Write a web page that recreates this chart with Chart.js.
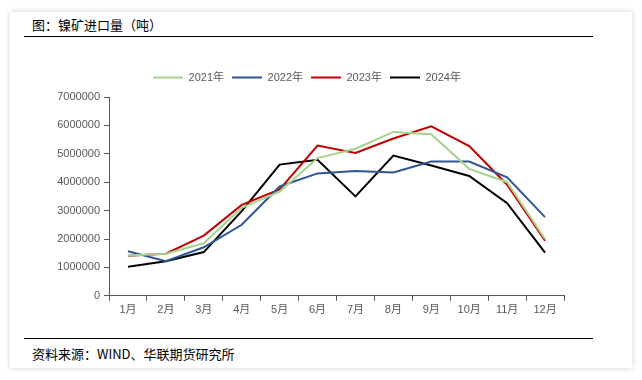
<!DOCTYPE html>
<html>
<head>
<meta charset="utf-8">
<script src="https://cdn.jsdelivr.net/npm/chart.js@4/dist/chart.umd.min.js"></script>
<style>
  body { margin: 0; background: #fff; width: 642px; height: 380px; overflow: hidden; }
  .card { position: absolute; left: 10px; top: 12px; width: 622px; height: 356px; background: #fff;
          box-shadow: 0 0 6px rgba(0,0,0,0.18); }
  .title { position: absolute; left: 32px; top: 15px; font: 13px "Noto Sans CJK SC", sans-serif; color: #000; }
  .rule { position: absolute; left: 24px; width: 569px; height: 0; border-top: 1px solid #000; }
  .src { position: absolute; left: 32px; top: 344px; font: 13px "Noto Sans CJK SC", sans-serif; color: #000; }
  #c { position: absolute; left: 0; top: 0; }
</style>
</head>
<body>
<div class="card"></div>
<div class="title">图：镍矿进口量（吨）</div>
<div class="rule" style="top:36px"></div>
<div class="rule" style="top:338px"></div>
<div class="src">资料来源：WIND、华联期货研究所</div>
<canvas id="c" width="642" height="380"></canvas>
<script>
const months = ['1月', '2月', '3月', '4月', '5月', '6月', '7月', '8月', '9月', '10月', '11月', '12月'];
const y2021 = [1420000, 1480000, 1850000, 3100000, 3670000, 4850000, 5180000, 5770000, 5690000, 4470000, 4000000, 2000000];
const y2022 = [1570000, 1220000, 1710000, 2500000, 3850000, 4310000, 4390000, 4340000, 4730000, 4730000, 4170000, 2770000];
const y2023 = [1410000, 1480000, 2120000, 3200000, 3750000, 5290000, 5030000, 5540000, 5970000, 5270000, 3910000, 1940000];
const y2024 = [1020000, 1220000, 1540000, 2980000, 4620000, 4790000, 3500000, 4940000, 4590000, 4220000, 3260000, 1520000];

const font = { family: '"Liberation Sans", Arial, "Noto Sans CJK SC", sans-serif', size: 11 };

function series(label, data, color) {
    return { label: label, data: data, borderColor: color, backgroundColor: color,
             borderWidth: 2, pointRadius: 0, tension: 0 };
}

// a little extra space under the legend
const legendGap = {
    id: 'legendGap',
    beforeInit(chart) {
        const fit = chart.legend.fit;
        chart.legend.fit = function () {
            fit.bind(chart.legend)();
            this.height += 4;
        };
    }
};

new Chart(document.getElementById('c'), {
    type: 'line',
    data: {
        labels: months,
        datasets: [
            series('2021年', y2021, '#a9d18e'),
            series('2022年', y2022, '#2f5597'),
            series('2023年', y2023, '#c00000'),
            series('2024年', y2024, '#000000')
        ]
    },
    plugins: [legendGap],
    options: {
        responsive: false,
        animation: false,
        layout: { padding: { left: 50, right: 78, top: 64, bottom: 60 } },
        plugins: {
            legend: {
                labels: { usePointStyle: true, pointStyle: 'line', pointStyleWidth: 30,
                          color: '#595959', font: font, padding: 8 }
            },
            tooltip: { enabled: false }
        },
        scales: {
            x: {
                offset: true,
                grid: { drawOnChartArea: false, offset: true, color: '#595959', tickLength: 5 },
                border: { color: '#595959' },
                ticks: { color: '#595959', font: font, padding: 3, maxRotation: 0 }
            },
            y: {
                min: 0, max: 7000000,
                afterFit: s => { s.width = 59; },
                grid: { drawOnChartArea: false, color: '#595959', tickLength: 5 },
                border: { color: '#595959' },
                ticks: { stepSize: 1000000, color: '#595959', font: font, padding: 4,
                         callback: v => String(v) }
            }
        }
    }
});
</script>
</body>
</html>
